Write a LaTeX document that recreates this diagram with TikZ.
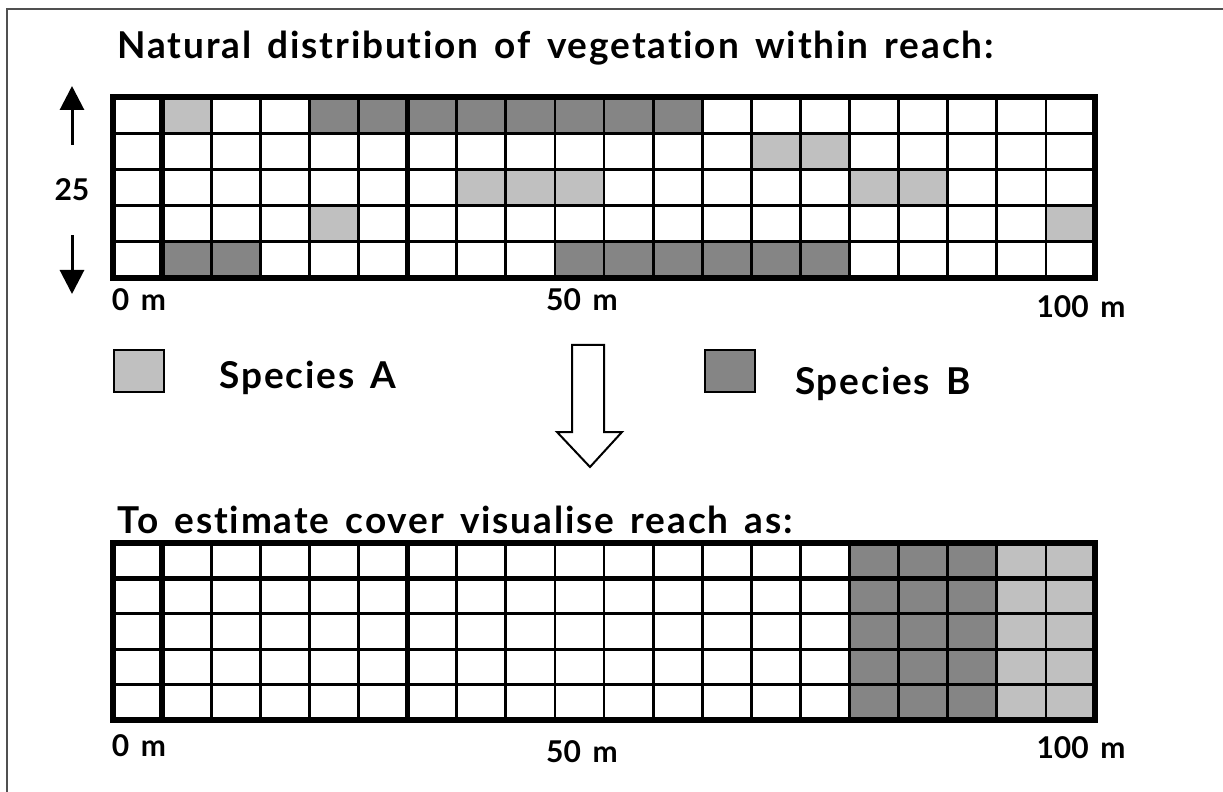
\documentclass[tikz,border=0pt]{standalone}
\usepackage{fontspec}
\setmainfont{Lato}[Ligatures=NoCommon]
\newfontfamily\wideface{Lato}[Ligatures=NoCommon, LetterSpace=5, WordSpace=1.5]
\newfontfamily\metreface{Lato}[WordSpace=1.6]
\usetikzlibrary{arrows.meta}
\definecolor{speciesA}{RGB}{192,192,192}
\definecolor{speciesB}{RGB}{133,133,133}
\definecolor{frameGrey}{RGB}{80,80,80}

\begin{document}
\begin{tikzpicture}[x=0.5pt, y=-0.5pt,
    font=\wideface\bfseries\fontsize{18.5}{22}\selectfont,
    cellline/.style={line width=1.4pt},
    boldline/.style={line width=2.7pt},
    metre/.style={inner sep=0pt, font=\metreface\bfseries\fontsize{15}{18}\selectfont},
    heading/.style={anchor=west, inner sep=0pt},
    keybox/.style={draw, line width=1pt, minimum width=25pt, minimum height=21pt, inner sep=0pt},
    vArrow/.style={line width=1.5pt, -{Triangle[length=12pt, width=12pt]}}]
                \useasboundingbox (0,0) rectangle (1223,792);
                % frame
                \draw[frameGrey, line width=1pt] (7,792) -- (7,9) -- (1223,9);

                \node[heading] (title) at (117,48) {Natural distribution of vegetation within reach:};

                % Natural reach
                \begin{scope}[xshift=56.5pt, yshift=-48.5pt, x=24.55pt, y=-18.1pt]
                    \fill[speciesA] (1,0) rectangle ++(1,1);
                    \foreach \c in {4,...,11} \fill[speciesB] (\c,0) rectangle ++(1,1);
                    \foreach \c in {13,14} \fill[speciesA] (\c,1) rectangle ++(1,1);
                    \foreach \c in {7,8,9,15,16} \fill[speciesA] (\c,2) rectangle ++(1,1);
                    \foreach \c in {4,19} \fill[speciesA] (\c,3) rectangle ++(1,1);
                    \foreach \c in {1,2,9,10,...,14} \fill[speciesB] (\c,4) rectangle ++(1,1);
                    \foreach \c in {2,3,4,5,7,8,...,19} \draw[cellline] (\c,0) -- (\c,5);
                    \foreach \r in {1,...,4} \draw[cellline] (0,\r) -- (20,\r);
                    \draw[boldline] (1,0) -- (1,5) (6,0) -- (6,5);
                    \draw[boldline] (0,0) rectangle (20,5);
                \end{scope}

                % width of reach
                \node[metre, minimum height=45pt] (width) at (72,190) {25};
                \coordinate (upTip) at (72,86);
                \coordinate (downTip) at (72,294);
                \draw[vArrow] (width.north) -- (upTip);
                \draw[vArrow] (width.south) -- (downTip);

                \node[metre] (topZero) at (139,300) {0 m};
                \node[metre] (topFifty) at (582,300) {50 m};
                \node[metre] (topHundred) at (1081,307) {100 m};

                % legend
                \node[keybox, fill=speciesA] (keyA) at (139,371) {};
                \node (nameA) at (308,378) {Species A};
                \node[keybox, fill=speciesB] (keyB) at (730,371) {};
                \node (nameB) at (883,384) {Species B};

                % block arrow
                \draw[line width=1pt, fill=white] (572,345) -- (604,345) -- (604,432) -- (622,432)
                    -- (590,467) -- (557,432) -- (572,432) -- cycle;

                \node[heading] (subtitle) at (117,520) {To estimate cover visualise reach as:};

                % Reach as estimated
                \begin{scope}[xshift=56.5pt, yshift=-271.5pt, x=24.55pt, y=-17.7pt]
                    \fill[speciesB] (15,0) rectangle (18,5);
                    \fill[speciesA] (18,0) rectangle (20,5);
                    \foreach \c in {2,3,4,5,7,8,...,19} \draw[cellline] (\c,0) -- (\c,5);
                    \foreach \r in {2,...,4} \draw[cellline] (0,\r) -- (20,\r);
                    \draw[boldline] (1,0) -- (1,5) (6,0) -- (6,5) (0,1) -- (20,1);
                    \draw[boldline] (0,0) rectangle (20,5);
                \end{scope}

                \node[metre] (lowZero) at (139,746) {0 m};
                \node[metre] (lowFifty) at (582,752) {50 m};
                \node[metre] (lowHundred) at (1081,748) {100 m};
            \end{tikzpicture}
\end{document}
